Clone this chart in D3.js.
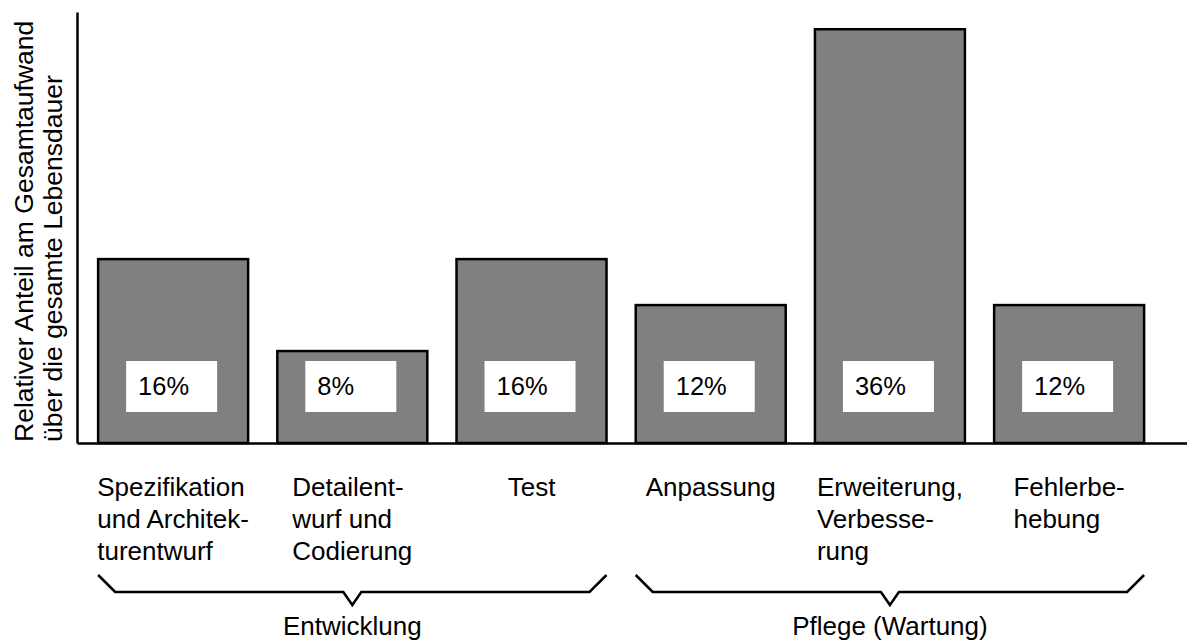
<!DOCTYPE html>
<html>
<head>
<meta charset="utf-8">
<script src="https://cdn.jsdelivr.net/npm/d3@7"></script>
<style>
	body { margin: 0; background: #fff; }
	text { font-family: "Liberation Sans", Arial, sans-serif; fill: #000; }
</style>
</head>
<body>
<script>
// datos del grafico
var categories = ["spez", "detail", "test", "anpassung", "erweiterung", "fehler"]
var labelLines = [
	["Spezifikation", "und Architek-", "turentwurf"],
	["Detailent-", "wurf und", "Codierung"],
	["Test"],
	["Anpassung"],
	["Erweiterung,", "Verbesse-", "rung"],
	["Fehlerbe-", "hebung"]
]
var values = [16, 8, 16, 12, 36, 12]
var valueLabels = ["16%", "8%", "16%", "12%", "36%", "12%"]
var groupNames = ["Entwicklung", "Pflege (Wartung)"]
var groupFirst = [0, 3]
var groupLast = [2, 5]
var yTitle = ["Relativer Anteil am Gesamtaufwand", "über die gesamte Lebensdauer"]
var yMax = 37.5

function createChart() {
	var chart = {}
	chart.w = 1187
	chart.h = 643
	chart.left = 77
	chart.base = 443
	chart.top = 12

	chart.xScale = d3.scaleBand()
		.domain(categories)
		.range([chart.left, chart.w])
		.paddingInner(0.163)
		.paddingOuter(0.1786)
		.align(0.33)

	chart.yScale = d3.scaleLinear()
		.domain([0, yMax])
		.range([chart.base, chart.top])

	chart.svg = d3.select("body").append("svg")
		.attr("width", chart.w)
		.attr("height", chart.h)

	var bw = chart.xScale.bandwidth()

	// barras
	chart.svg.selectAll("rect.bar")
		.data(values)
		.enter()
		.append("rect")
		.attr("class", "bar")
		.attr("x", function(d, i) { return chart.xScale(categories[i]) })
		.attr("y", function(d) { return chart.yScale(d) })
		.attr("width", bw)
		.attr("height", function(d) { return chart.base - chart.yScale(d) })
		.attr("fill", "#808080")
		.attr("stroke", "#000")
		.attr("stroke-width", 2.5)

	// cajas blancas con el porcentaje
	var boxes = chart.svg.selectAll("g.val")
		.data(valueLabels)
		.enter()
		.append("g")
		.attr("class", "val")
		.attr("transform", function(d, i) {
			return "translate(" + (chart.xScale(categories[i]) + 28) + ",361)"
		})
	boxes.append("rect")
		.attr("width", 91)
		.attr("height", 51)
		.attr("fill", "#fff")
	boxes.append("text")
		.attr("x", 12)
		.attr("y", 34)
		.style("font-size", "25.5px")
		.text(function(d) { return d })

	// ejes (solo lineas)
	var xAxis = d3.axisBottom(chart.xScale).tickSize(0).tickSizeOuter(0).tickFormat("")
	chart.svg.append("g")
		.attr("transform", "translate(0," + chart.base + ")")
		.call(xAxis)
	var yAxis = d3.axisLeft(chart.yScale).tickValues([]).tickSizeOuter(0)
	chart.svg.append("g")
		.attr("transform", "translate(" + chart.left + ",0)")
		.call(yAxis)
	chart.svg.selectAll(".domain")
		.attr("stroke", "#000")
		.attr("stroke-width", 2.5)

	// titulo del eje y, girado
	chart.svg.selectAll("text.ytitle")
		.data(yTitle)
		.enter()
		.append("text")
		.attr("class", "ytitle")
		.attr("transform", function(d, i) {
			return "translate(" + (33 + i * 29) + "," + (chart.base - 1) + ") rotate(-90)"
		})
		.style("font-size", "26.5px")
		.text(function(d) { return d })

	// etiquetas de categorias, bloque centrado bajo la barra
	labelLines.forEach(function(lines, i) {
		var g = chart.svg.append("g")
			.attr("transform", "translate(" + (chart.xScale(categories[i]) + bw / 2) + ",496)")
		var t = g.selectAll("text")
			.data(lines)
			.enter()
			.append("text")
			.attr("y", function(d, j) { return j * 32 })
			.style("font-size", "26px")
			.text(function(d) { return d })
		var maxW = d3.max(t.nodes(), function(n) { return n.getComputedTextLength() })
		t.attr("x", -maxW / 2)
	})

	// llaves de los grupos
	var line = d3.line()
	groupNames.forEach(function(name, k) {
		var x0 = chart.xScale(categories[groupFirst[k]])
		var x1 = chart.xScale(categories[groupLast[k]]) + bw
		var c = (x0 + x1) / 2
		var pts = [
			[x0, 575], [x0 + 17, 592], [c - 9, 592], [c, 605],
			[c + 9, 592], [x1 - 17, 592], [x1, 575]
		]
		chart.svg.append("path")
			.attr("d", line(pts))
			.attr("fill", "none")
			.attr("stroke", "#000")
			.attr("stroke-width", 2.5)
		chart.svg.append("text")
			.attr("x", c)
			.attr("y", 635)
			.attr("text-anchor", "middle")
			.style("font-size", "26px")
			.text(name)
	})

	return chart
}

createChart()
</script>
</body>
</html>
